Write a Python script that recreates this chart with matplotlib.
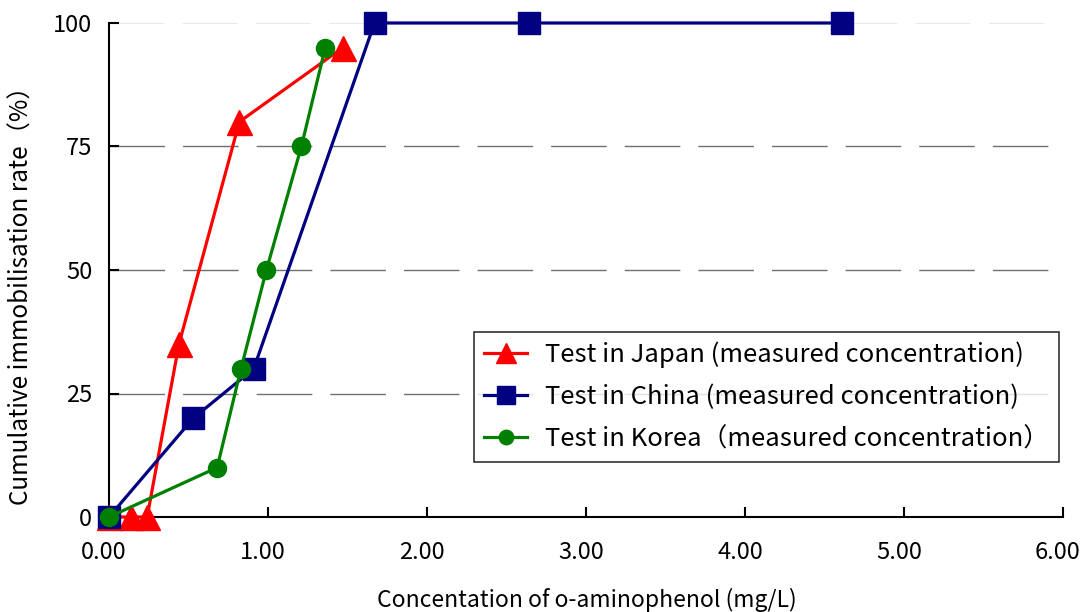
import numpy as np
import matplotlib.pyplot as plt
import matplotlib.transforms as mtransforms
from matplotlib.ticker import FormatStrFormatter

plt.rcParams['font.family'] = ['Noto Sans CJK JP', 'DejaVu Sans']

japan_x = [0.00, 0.14, 0.24, 0.44, 0.82, 1.47]
japan_y = [0, 0, 0, 35, 80, 95]
china_x = [0.00, 0.53, 0.91, 1.67, 2.64, 4.61]
china_y = [0, 20, 30, 100, 100, 100]
korea_x = [0.00, 0.68, 0.83, 0.99, 1.21, 1.36]
korea_y = [0, 10, 30, 50, 75, 95]

labels = ['Test in Japan (measured concentration)',
          'Test in China (measured concentration)',
          'Test in Korea（measured concentration）']

fig = plt.figure(figsize=(10.84, 6.12), dpi=100)
ax = fig.add_axes([109 / 1084, 1 - 517 / 612, (1063 - 109) / 1084, (517 - 23) / 612])

for yv in [25, 50, 75]:
    ax.axhline(yv, color='#707070', lw=1.0, dashes=(40, 13), zorder=0)
ax.axhline(100, color='#e4e4e4', lw=1.2, dashes=(33, 11), zorder=0)

ax.plot(japan_x, japan_y, color='#ff0000', lw=2.3, marker='^', ms=18, clip_on=False, zorder=3, label=labels[0])
ax.plot(china_x, china_y, color='#000080', lw=2.3, marker='s', ms=16, clip_on=False, zorder=4, label=labels[1])
ax.plot(korea_x, korea_y, color='#008000', lw=2.3, marker='o', ms=13, clip_on=False, zorder=5, label=labels[2])

ax.set_xlim(0, 6)
ax.set_ylim(0, 100)
ax.set_xticks(np.arange(0, 7, 1))
ax.set_yticks([0, 25, 50, 75, 100])
ax.xaxis.set_major_formatter(FormatStrFormatter('%.2f'))
ax.tick_params(direction='in', length=7, width=1.5, labelsize=17, colors='black')
ax.tick_params(axis='x', pad=17)
ax.tick_params(axis='y', pad=12)
ax.spines['top'].set_visible(False)
ax.spines['right'].set_visible(False)
ax.spines['left'].set_linewidth(1.5)
ax.spines['bottom'].set_linewidth(1.5)

# x tick labels sit a few pixels left of their ticks in the original
shift = mtransforms.ScaledTranslation(-5 / 100, 0, fig.dpi_scale_trans)
for lbl in ax.get_xticklabels():
    lbl.set_transform(lbl.get_transform() + shift)

fig.text(587 / 1084, 1 - 600 / 612, 'Concentation of o-aminophenol (mg/L)', fontsize=16.5,
         ha='center', va='center')
fig.text(22 / 1084, 1 - 290 / 612, 'Cumulative immobilisation rate（%）', fontsize=17.5,
         ha='center', va='center', rotation=90)

leg = ax.legend(loc='lower right', bbox_to_anchor=(0.996, 0.111), fontsize=18.5, frameon=True,
                fancybox=False, edgecolor='black', borderpad=0.38, labelspacing=0.63,
                handlelength=1.7, handletextpad=0.7, markerscale=0.8, borderaxespad=0)
leg.get_frame().set_linewidth(1.2)

fig.savefig('out.png', dpi=100)
